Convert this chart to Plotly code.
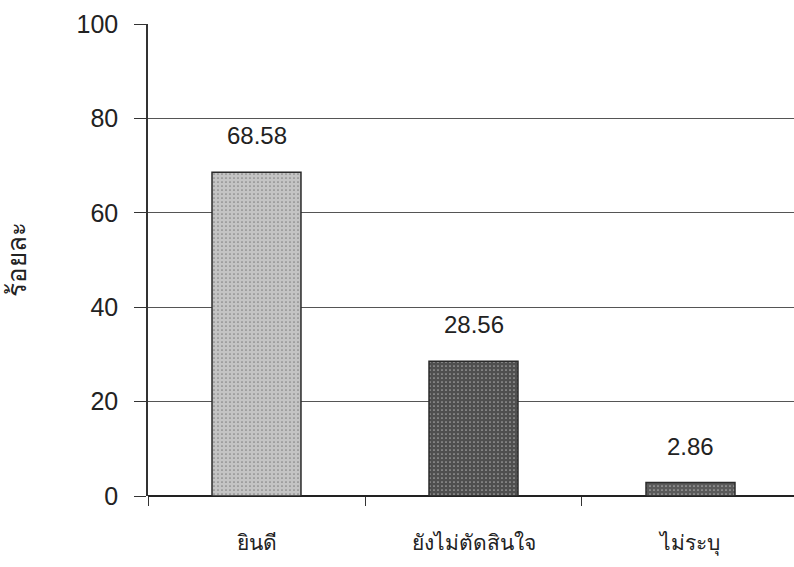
import plotly.graph_objects as go

categories = ["ยินดี", "ยังไม่ตัดสินใจ", "ไม่ระบุ"]
percent = [68.58, 28.56, 2.86]
value_labels = ["68.58", "28.56", "2.86"]
bar_colors = ["#c4c4c4", "#4f4f4f", "#5a5a5a"]
y_ticks = [0, 20, 40, 60, 80, 100]

FONT = "Liberation Sans, Arial, sans-serif"

fig = go.Figure()
fig.add_trace(go.Bar(
    x=categories,
    y=percent,
    marker=dict(
        color=bar_colors,
        line=dict(color="#2a2a2a", width=1.5),
        pattern=dict(shape=[".", ".", "."], fgcolor=["#a8a8a8", "#3e3e3e", "#474747"],
                     size=4, solidity=0.15),
    ),
    width=0.41,
    showlegend=False,
    hoverinfo="skip",
))

for cat, val, lab in zip(categories, percent, value_labels):
    fig.add_annotation(
        x=cat, y=val, text=lab, showarrow=False,
        yanchor="bottom", yshift=21,
        font=dict(family=FONT, size=24, color="#222222"),
    )

fig.update_layout(
    width=794, height=567,
    margin=dict(l=148, r=0, t=24, b=71),
    paper_bgcolor="white", plot_bgcolor="white",
    font=dict(family=FONT, color="#222222"),
)

fig.update_xaxes(
    range=[-0.5, 2.477],
    tickson="boundaries",
    ticks="outside", ticklen=9, tickcolor="#333333", tickwidth=1,
    showgrid=False,
    showline=False,
    tickfont=dict(size=21, color="#222222"),
    ticklabelstandoff=32,
)

fig.update_yaxes(
    range=[0, 100],
    tickvals=y_ticks,
    ticks="outside", ticklen=12, tickcolor="#333333", tickwidth=1,
    showline=True, linecolor="#333333", linewidth=1.5,
    showgrid=True, gridcolor="#555555", gridwidth=1,
    zeroline=True, zerolinecolor="#222222", zerolinewidth=2,
    tickfont=dict(size=25, color="#222222"),
    ticklabelstandoff=11,
    title=dict(text="ร้อยละ", font=dict(size=26, color="#222222"), standoff=42),
)

fig.write_html("out.html")
